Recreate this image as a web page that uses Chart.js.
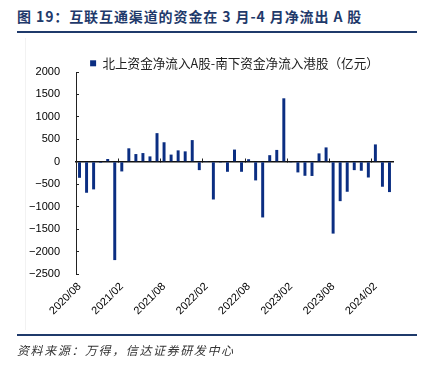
<!DOCTYPE html>
<html>
<head>
<meta charset="utf-8">
<script src="https://cdn.jsdelivr.net/npm/chart.js@4/dist/chart.umd.min.js"></script>
<style>
  html, body { margin: 0; padding: 0; background: #fff; }
  #wrap { position: relative; width: 432px; height: 366px; overflow: hidden; background: #fff; }
  #c { position: absolute; left: 0; top: 0; }
  .title { position: absolute; left: 17px; top: 6px; font: bold 14px "Noto Sans CJK SC", sans-serif; color: #1f3a6b; white-space: nowrap; letter-spacing: 0.9px; }
  .rule { position: absolute; left: 17px; width: 400px; height: 2px; background: #1f3a6b; }
  .src { position: absolute; left: 17px; top: 341px; font: italic 12px "Noto Sans CJK SC", sans-serif; color: #333; white-space: nowrap; letter-spacing: 1.6px; }
  .vline { position: absolute; left: 25px; top: 38px; width: 1px; height: 292px; background: #f2f2f2; }
</style>
</head>
<body>
<div id="wrap">
  <div class="title">图 19：互联互通渠道的资金在 3 月-4 月净流出 A 股</div>
  <div class="rule" style="top:31px"></div>
  <div class="vline"></div>
  <canvas id="c" width="432" height="366"></canvas>
  <div class="rule" style="top:334px"></div>
  <div class="src">资料来源：万得，信达证券研发中心</div>
</div>
<script>
const months = [
  '2020/08','2020/09','2020/10','2020/11','2020/12',
  '2021/01','2021/02','2021/03','2021/04','2021/05','2021/06','2021/07','2021/08','2021/09','2021/10','2021/11','2021/12',
  '2022/01','2022/02','2022/03','2022/04','2022/05','2022/06','2022/07','2022/08','2022/09','2022/10','2022/11','2022/12',
  '2023/01','2023/02','2023/03','2023/04','2023/05','2023/06','2023/07','2023/08','2023/09','2023/10','2023/11','2023/12',
  '2024/01','2024/02','2024/03','2024/04'
];
const netFlow = [
  -357, -690, -615, -25, 62,
  -2190, -215, 300, 172, 194, 120, 638, 435, 160, 254, 232, 483,
  -186, 5, -840, -20, -223, 272, -223, 57, -415, -1240, 147, 264,
  1414, -5, -237, -312, -316, 187, 320, -1600, -877, -668, -186, -200,
  -350, 387, -556, -675
];
const seriesName = '北上资金净流入A股-南下资金净流入港股（亿元）';
const yTicks = { min: -2500, max: 2000, step: 500 };
const labelEvery = 6;

const barColor = '#0b2e82';

new Chart(document.getElementById('c'), {
  type: 'bar',
  data: {
    labels: months,
    datasets: [{
      label: seriesName,
      data: netFlow,
      backgroundColor: barColor,
      borderWidth: 0,
      categoryPercentage: 1,
      barPercentage: 0.42
    }]
  },
  options: {
    responsive: false,
    animation: false,
    devicePixelRatio: 1,
    layout: { padding: { left: 0, right: 39, top: 47, bottom: 32 } },
    plugins: {
      tooltip: { enabled: false },
      legend: {
        position: 'top',
        fullSize: false,
        align: 'center',
        maxHeight: 25,
        labels: {
          boxWidth: 6,
          boxHeight: 6,
          padding: 10,
          color: '#222',
          font: { family: '"Noto Sans CJK SC", sans-serif', size: 12.6 }
        }
      }
    },
    scales: {
      x: {
        type: 'category',
        position: 'bottom',
        offset: true,
        grid: { display: false, drawTicks: false, offset: true },
        border: { display: false },
        afterFit: (s) => { s.height = 60; },
        ticks: {
          autoSkip: false,
          minRotation: 45,
          maxRotation: 45,
          padding: 6,
          color: '#000',
          font: { family: '"Liberation Sans", Arial, sans-serif', size: 11 },
          callback: function (v, i) { return i % labelEvery === 0 ? this.getLabelForValue(v) : ''; }
        }
      },
      x2: {
        type: 'category',
        axis: 'x',
        position: { y: 0 },
        offset: true,
        grid: {
          offset: true,
          drawOnChartArea: false,
          drawTicks: true,
          tickLength: -4,
          tickWidth: 1,
          tickColor: (ctx) => (ctx.index % labelEvery === 0 ? '#222' : 'rgba(0,0,0,0)')
        },
        border: { display: true, color: '#111', width: 1.5 },
        ticks: { display: false, autoSkip: false }
      },
      y: {
        type: 'linear',
        position: 'left',
        min: yTicks.min,
        max: yTicks.max,
        afterFit: (s) => { s.width = 76; },
        grid: { drawOnChartArea: false, drawTicks: true, tickLength: -3, tickColor: '#222' },
        border: { display: true, color: '#222', width: 1 },
        ticks: {
          stepSize: yTicks.step,
          padding: 19,
          color: '#000',
          font: { family: '"Liberation Sans", Arial, sans-serif', size: 11 },
          callback: (v) => (v < 0 ? '\u2212' + Math.abs(v) : String(v))
        }
      }
    }
  }
});
</script>
</body>
</html>
